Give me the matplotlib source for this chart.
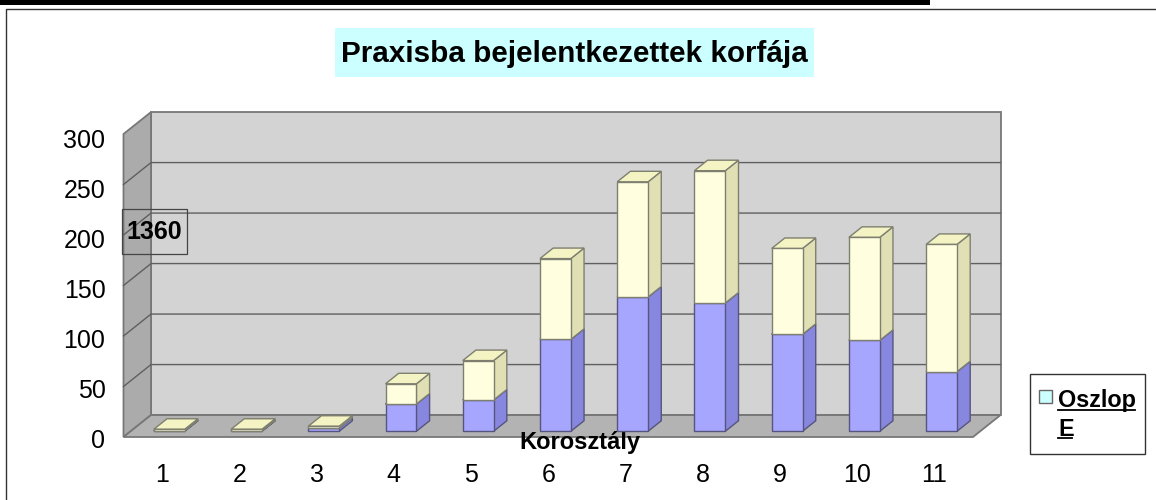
import numpy as np
import matplotlib
matplotlib.use('Agg')
import matplotlib.pyplot as plt
from matplotlib.patches import Polygon, Rectangle

plt.rcParams['font.family'] = ['Liberation Sans', 'DejaVu Sans']

korosztaly = [1, 2, 3, 4, 5, 6, 7, 8, 9, 10, 11]
also = [0.3, 0.3, 3, 27, 31, 91, 133, 127, 96, 90, 59]
felso = [1.7, 1.7, 2, 20, 39, 80, 114, 131, 85, 102, 126]
y_ticks = [0, 50, 100, 150, 200, 250, 300]

title = 'Praxisba bejelentkezettek korfája'
x_title = 'Korosztály'
total_label = '1360'

W, H = 1156, 500
AX_L, AX_R, AX_T, AX_B = 123.5, 973, 134, 438
X_MIN, X_MAX = 0.5, 11.5
Y_MAX = 300

# eltolas a melyseg iranyaban (adat egysegben)
DX = 27.5 / ((AX_R - AX_L) / (X_MAX - X_MIN))
DY = 22 / ((AX_B - AX_T) / Y_MAX)
BAR_W = 0.4
BAR_D0, BAR_D1 = 0.26, 0.74


def shifted(x, y, d):
    return (x + d * DX, y + d * DY)


def draw_box(ax, x, y0, y1, front, side, top, edge):
    l, r = x - BAR_W / 2, x + BAR_W / 2
    a, b = BAR_D0, BAR_D1
    f = [shifted(l, y0, a), shifted(r, y0, a), shifted(r, y1, a), shifted(l, y1, a)]
    s = [shifted(r, y0, a), shifted(r, y0, b), shifted(r, y1, b), shifted(r, y1, a)]
    t = [shifted(l, y1, a), shifted(r, y1, a), shifted(r, y1, b), shifted(l, y1, b)]
    for pts, col in ((s, side), (t, top), (f, front)):
        ax.add_patch(Polygon(pts, closed=True, facecolor=col, edgecolor=edge, lw=1.0, zorder=5))


fig = plt.figure(figsize=(W / 100, H / 100), dpi=100, facecolor='white')
ax = fig.add_axes([AX_L / W, 1 - AX_B / H, (AX_R - AX_L) / W, (AX_B - AX_T) / H])
ax.set_xlim(X_MIN, X_MAX)
ax.set_ylim(0, Y_MAX)
ax.patch.set_visible(False)
for sp in ax.spines.values():
    sp.set_visible(False)

# falak es padlo
wall_edge = '#777777'
back = [shifted(X_MIN, 0, 1), shifted(X_MAX, 0, 1), shifted(X_MAX, Y_MAX, 1), shifted(X_MIN, Y_MAX, 1)]
left = [shifted(X_MIN, 0, 0), shifted(X_MIN, 0, 1), shifted(X_MIN, Y_MAX, 1), shifted(X_MIN, Y_MAX, 0)]
floor = [shifted(X_MIN, 0, 0), shifted(X_MAX, 0, 0), shifted(X_MAX, 0, 1), shifted(X_MIN, 0, 1)]
kw = dict(closed=True, clip_on=False, lw=1.3, edgecolor=wall_edge)
ax.add_patch(Polygon(back, facecolor='#d3d3d3', zorder=1, **kw))
ax.add_patch(Polygon(left, facecolor='#ababab', zorder=1, **kw))
ax.add_patch(Polygon(floor, facecolor='#b3b3b3', zorder=1, **kw))

for v in y_ticks[1:-1]:
    p0, p1, p2 = shifted(X_MIN, v, 0), shifted(X_MIN, v, 1), shifted(X_MAX, v, 1)
    ax.plot([p0[0], p1[0], p2[0]], [p0[1], p1[1], p2[1]], color='#5f5f5f', lw=1.0, zorder=2, clip_on=False)

for x, a, b in zip(korosztaly, also, felso):
    draw_box(ax, x, 0, a, '#a6a6ff', '#8787df', '#8787df', '#55557f')
    draw_box(ax, x, a, a + b, '#ffffdf', '#e0e0b4', '#f3f3c3', '#7f7f70')

ax.set_xticks(korosztaly)
ax.set_xticklabels(korosztaly)
ax.set_yticks(np.array(y_ticks) * 0.99 - 1)
ax.set_yticklabels(y_ticks)
ax.tick_params(axis='x', length=0, pad=18, labelsize=18)
ax.tick_params(axis='y', length=0, pad=13, labelsize=18)
ax.set_xlabel(x_title, fontsize=17, fontweight='bold', va='center')
ax.xaxis.set_label_coords((580 - AX_L) / (AX_R - AX_L), -4 / (AX_B - AX_T))
ax.xaxis.label.set_zorder(8)

# keret, cim, jelmagyarazat pixelben
ov = fig.add_axes([0, 0, 1, 1], zorder=10)
ov.set_xlim(0, W)
ov.set_ylim(H, 0)
ov.axis('off')
ov.patch.set_visible(False)

ov.add_patch(Rectangle((0, 0), 930, 4.5, facecolor='black', edgecolor='none'))
ov.plot([6, 6, W], [H, 9, 9], color='#333333', lw=1.0)

ov.add_patch(Rectangle((335, 28), 479, 49, facecolor='#ccffff', edgecolor='none'))
ov.text(574, 54, title, fontsize=21.3, fontweight='bold', ha='center', va='center')

ov.add_patch(Rectangle((121.5, 208.5), 65, 45, facecolor='none', edgecolor='#444444', lw=0.9))
ov.text(154, 232, total_label, fontsize=18, fontweight='bold', ha='center', va='center')

ov.add_patch(Rectangle((1029.5, 373.5), 115, 80, facecolor='white', edgecolor='#333333', lw=1.0))
ov.add_patch(Rectangle((1038.5, 389.5), 13, 13, facecolor='#ccffff', edgecolor='#666666', lw=1.0))
ov.text(1058, 401, 'Oszlop', fontsize=16.8, fontweight='bold', ha='left', va='center')
ov.plot([1058, 1134.5], [409.5, 409.5], color='black', lw=1.3)
ov.text(1058, 429, 'E', fontsize=16.8, fontweight='bold', ha='left', va='center')
ov.plot([1058, 1071.5], [437.5, 437.5], color='black', lw=1.3)

fig.savefig('out.png', dpi=100)
